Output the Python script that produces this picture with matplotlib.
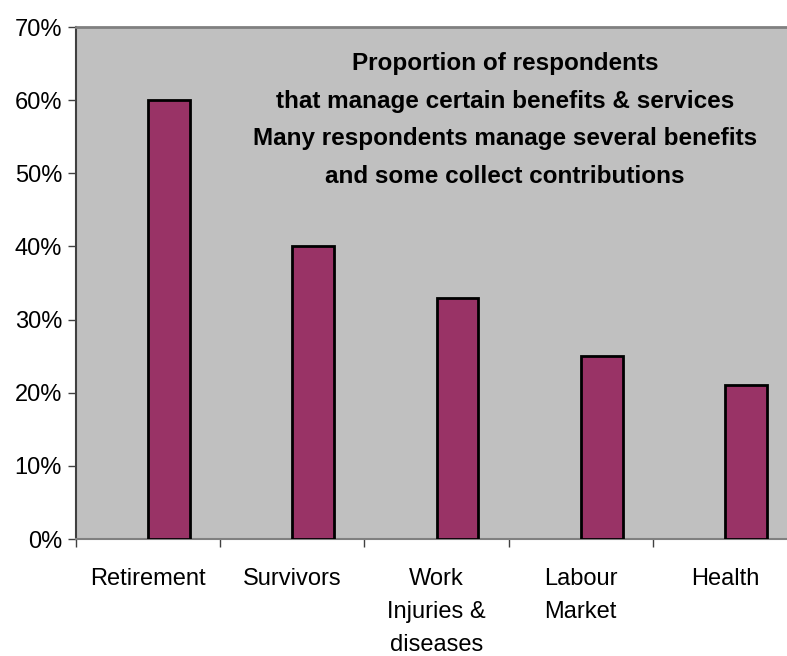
import matplotlib
matplotlib.use("Agg")
import matplotlib.pyplot as plt
import numpy as np

CATEGORIES = ["Retirement", "Survivors", "Work\nInjuries &\ndiseases", "Labour\nMarket", "Health"]
VALUES = [60, 40, 33, 25, 21]  # percent of respondents

TITLE = ("Proportion of respondents\n"
         "that manage certain benefits & services\n"
         "Many respondents manage several benefits\n"
         "and some collect contributions")

plt.rcParams["font.family"] = ["Liberation Sans", "DejaVu Sans"]

fig = plt.figure(figsize=(7.87, 6.56), dpi=100)
# plot area runs a little past the right edge of the image, like the original
ax = fig.add_axes([76 / 787, 1 - 539 / 656, 721 / 787, 512 / 656])
ax.set_facecolor("#C0C0C0")

x = np.arange(len(CATEGORIES))
ax.bar(x, VALUES, width=0.29, align="edge", color="#993366",
       edgecolor="black", linewidth=2, zorder=3)

ax.set_xlim(-0.5, len(CATEGORIES) - 0.5)
ax.set_ylim(0, 70)
ax.set_yticks(np.arange(0, 71, 10))
ax.set_yticklabels([f"{v}%" for v in range(0, 71, 10)], fontsize=17)

ax.set_xticks(x)
ax.set_xticklabels(CATEGORIES, fontsize=17, va="top", linespacing=1.65)
ax.set_xticks(np.arange(len(CATEGORIES) + 1) - 0.5, minor=True)
ax.tick_params(axis="x", which="major", length=0, pad=21)
ax.tick_params(axis="x", which="minor", length=6, color="#404040", width=1)
ax.tick_params(axis="y", length=6, color="#404040", width=1, pad=4)

for side in ["top", "right"]:
    ax.spines[side].set_color("#808080")
    ax.spines[side].set_linewidth(2)
ax.spines["left"].set_color("#404040")
ax.spines["bottom"].set_color("#808080")
ax.spines["left"].set_linewidth(1.5)
ax.spines["bottom"].set_linewidth(1.5)

fig.text(505 / 787, 1 - 120 / 656, TITLE, ha="center", va="center",
         fontsize=17.5, fontweight="bold", linespacing=1.8)

fig.savefig("out.png", dpi=100)
